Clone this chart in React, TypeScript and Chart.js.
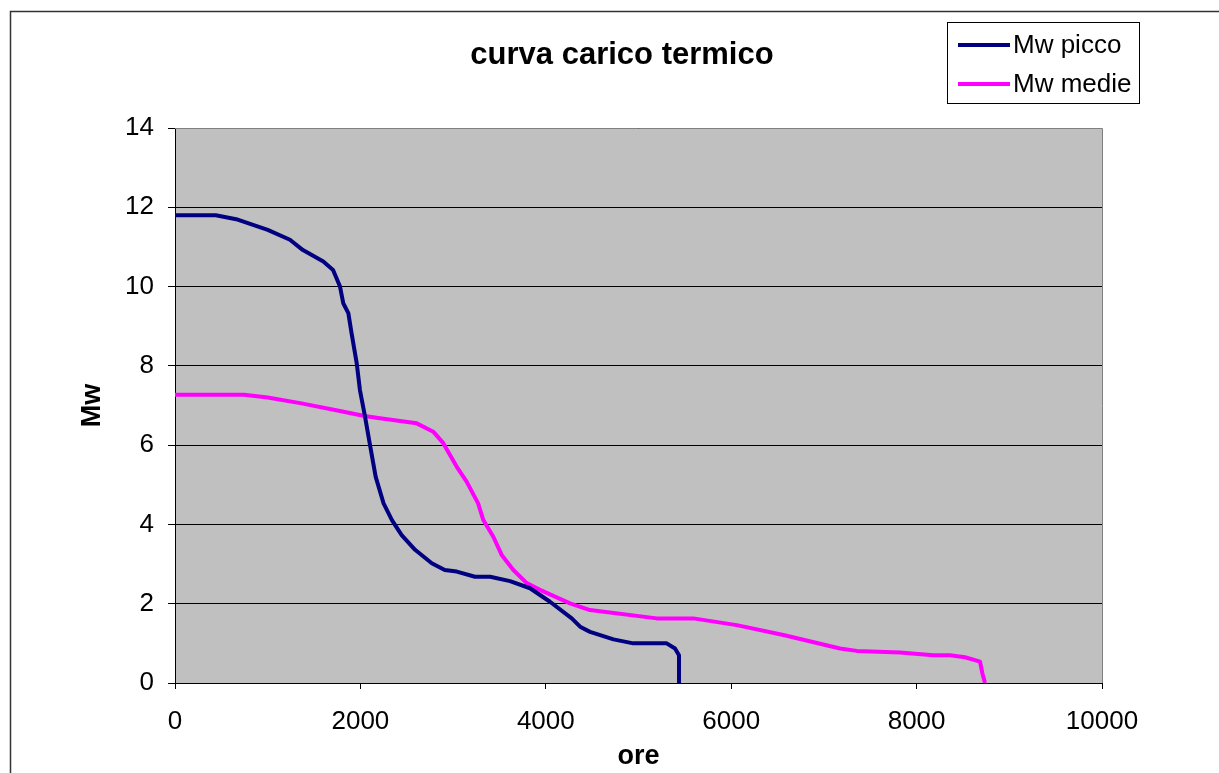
import React, { useEffect, useRef } from "react";
import { Chart, registerables } from "chart.js";

Chart.register(...registerables);

const chartTitle = "curva carico termico";
const xTitle = "ore";
const yTitle = "Mw";
const seriesNames = ["Mw picco", "Mw medie"];
const seriesColors = ["#000080", "#FF00FF"];

const piccoOre = [0, 440, 660, 1000, 1240, 1380, 1600, 1705, 1780, 1815, 1870, 1905, 1960, 1995, 2050, 2100, 2165, 2250, 2340, 2445, 2590, 2770, 2910, 3040, 3236, 3400, 3614, 3830, 4045, 4280, 4370, 4477, 4730, 4944, 5304, 5394, 5437, 5437];
const piccoMw = [11.8, 11.8, 11.7, 11.43, 11.18, 10.92, 10.63, 10.42, 10.0, 9.58, 9.33, 8.82, 8.07, 7.39, 6.72, 6.05, 5.2, 4.53, 4.11, 3.73, 3.36, 3.02, 2.85, 2.81, 2.68, 2.68, 2.57, 2.39, 2.05, 1.63, 1.42, 1.29, 1.1, 1.0, 1.0, 0.87, 0.7, 0];

const medieOre = [0, 745, 1000, 1350, 1780, 2030, 2210, 2607, 2786, 2894, 3038, 3146, 3270, 3326, 3434, 3524, 3650, 3794, 3937, 4261, 4477, 5196, 5591, 6060, 6563, 7174, 7354, 7821, 8180, 8360, 8522, 8684, 8710, 8738];
const medieMw = [7.27, 7.27, 7.2, 7.06, 6.86, 6.74, 6.68, 6.55, 6.34, 6.05, 5.46, 5.08, 4.53, 4.11, 3.69, 3.23, 2.85, 2.52, 2.35, 2.01, 1.84, 1.63, 1.63, 1.46, 1.21, 0.87, 0.81, 0.77, 0.7, 0.7, 0.65, 0.54, 0.24, 0];

const xMin = 0, xMax = 10000, xStep = 2000;
const yMin = 0, yMax = 14, yStep = 2;

const FONT = "'Liberation Sans', Arial, sans-serif";

const decorPlugin = {
  id: "decor",
  beforeDraw(chart: any) {
    const { ctx, chartArea: a, width, height } = chart;
    ctx.save();
    ctx.fillStyle = "#ffffff";
    ctx.fillRect(0, 0, width, height);
    ctx.strokeStyle = "#333333";
    ctx.lineWidth = 1.5;
    ctx.strokeRect(10.5, 11.5, width + 20, height + 20);
    ctx.fillStyle = "#C0C0C0";
    ctx.fillRect(a.left, a.top, a.right - a.left, a.bottom - a.top);
    ctx.restore();
  },
  afterDraw(chart: any) {
    const { ctx, chartArea: a } = chart;
    ctx.save();
    ctx.strokeStyle = "#808080";
    ctx.lineWidth = 1;
    ctx.beginPath();
    ctx.moveTo(a.left, a.top + 0.5);
    ctx.lineTo(a.right + 0.5, a.top + 0.5);
    ctx.lineTo(a.right + 0.5, a.bottom);
    ctx.stroke();

    // title
    ctx.fillStyle = "#000";
    ctx.font = `bold 31px ${FONT}`;
    ctx.textAlign = "center";
    ctx.textBaseline = "middle";
    ctx.fillText(chartTitle, 622, 55);

    // legend
    ctx.strokeStyle = "#000";
    ctx.lineWidth = 1;
    ctx.strokeRect(947.5, 22.5, 192, 81);
    ctx.font = `26px ${FONT}`;
    ctx.textAlign = "left";
    const rows = [45, 84];
    seriesNames.forEach((name, i) => {
      ctx.strokeStyle = seriesColors[i];
      ctx.lineWidth = 4;
      ctx.beginPath();
      ctx.moveTo(958, rows[i]);
      ctx.lineTo(1010, rows[i]);
      ctx.stroke();
      ctx.fillStyle = "#000";
      ctx.fillText(name, 1013, rows[i] + 1);
    });
    ctx.restore();
  },
};

export default function App() {
  const ref = useRef<HTMLCanvasElement>(null);
  useEffect(() => {
    if (!ref.current) return;
    const chart = new Chart(ref.current, {
      type: "line",
      data: {
        datasets: [
          {
            label: seriesNames[0],
            data: piccoOre.map((x, i) => ({ x, y: piccoMw[i] })),
            borderColor: seriesColors[0],
            backgroundColor: seriesColors[0],
            borderWidth: 4,
            pointRadius: 0,
            tension: 0,
            borderJoinStyle: "round",
            borderCapStyle: "butt",
          },
          {
            label: seriesNames[1],
            data: medieOre.map((x, i) => ({ x, y: medieMw[i] })),
            borderColor: seriesColors[1],
            backgroundColor: seriesColors[1],
            borderWidth: 4,
            pointRadius: 0,
            tension: 0,
            borderJoinStyle: "round",
            borderCapStyle: "butt",
          },
        ],
      },
      options: {
        responsive: false,
        animation: false,
        layout: { padding: { left: 0, top: 128, right: 117, bottom: 0 } },
        plugins: { legend: { display: false }, title: { display: false }, tooltip: { enabled: false } },
        scales: {
          x: {
            type: "linear",
            min: xMin,
            max: xMax,
            afterFit: (s: any) => { s.height = 90; },
            ticks: { stepSize: xStep, color: "#000", font: { family: FONT, size: 26 }, padding: 17, maxRotation: 0, callback: (v: any) => String(v) },
            grid: { drawOnChartArea: false, drawTicks: true, tickLength: 6, color: "#000" },
            border: { display: true, color: "#000", width: 1 },
            title: { display: true, text: xTitle, color: "#000", font: { family: FONT, size: 27, weight: "bold" }, padding: { top: 0, bottom: 0 } },
          },
          y: {
            type: "linear",
            min: yMin,
            max: yMax,
            afterFit: (s: any) => { s.width = 175; },
            ticks: { stepSize: yStep, color: "#000", font: { family: FONT, size: 26 }, padding: 14, callback: (v: any) => String(v) },
            grid: { drawOnChartArea: true, drawTicks: true, tickLength: 7, color: "#000", lineWidth: 1 },
            border: { display: true, color: "#000", width: 1 },
            title: { display: true, text: yTitle, color: "#000", font: { family: FONT, size: 27, weight: "bold" }, padding: { top: 76, bottom: 0 } },
          },
        },
      },
      plugins: [decorPlugin],
    });
    return () => chart.destroy();
  }, []);
  return (
    <div style={{ position: "fixed", left: 0, top: 0, width: 1219, height: 773 }}>
      <canvas ref={ref} width={1219} height={773} style={{ width: 1219, height: 773, display: "block" }} />
    </div>
  );
}
